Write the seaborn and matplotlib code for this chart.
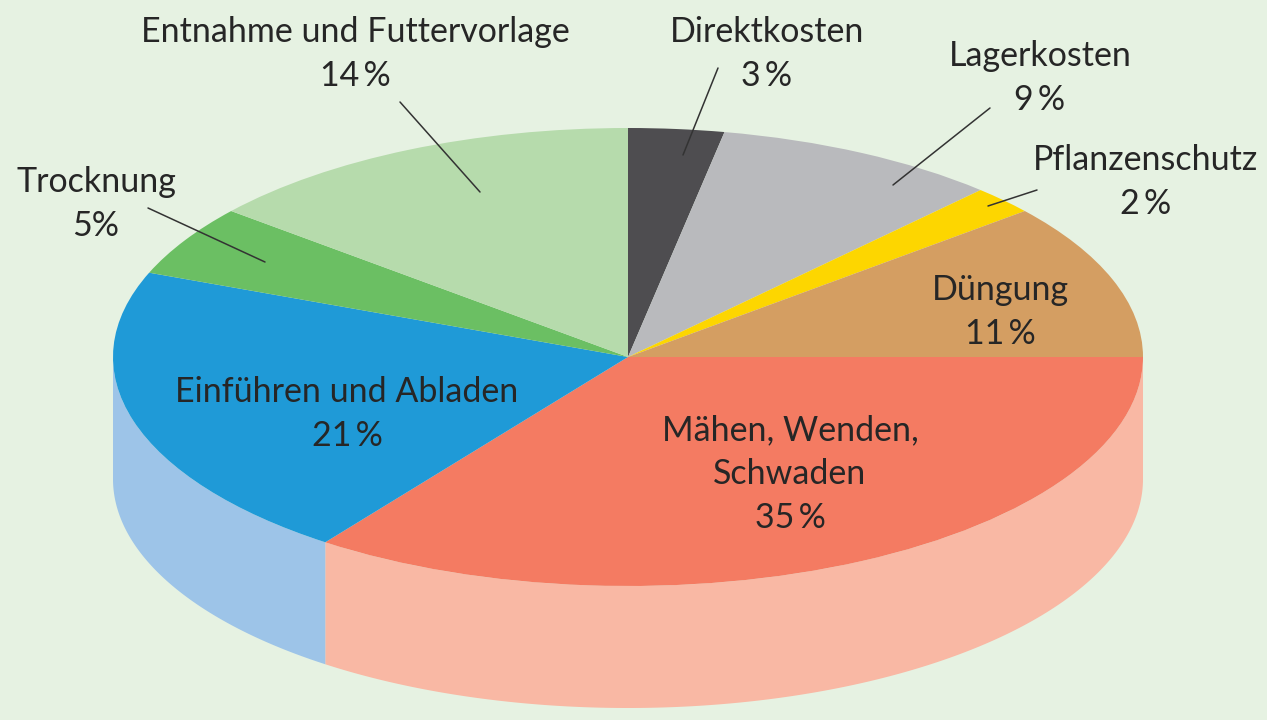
import numpy as np
import matplotlib
matplotlib.use("Agg")
import matplotlib.pyplot as plt
from matplotlib.transforms import Affine2D
from matplotlib.patches import Polygon
import seaborn as sns

# cost shares, clockwise from 12 o'clock
categories = ["Direktkosten", "Lagerkosten", "Pflanzenschutz", "Düngung",
              "Mähen, Wenden,\nSchwaden", "Einführen und Abladen", "Trocknung",
              "Entnahme und Futtervorlage"]
shares = [3, 9, 2, 11, 35, 21, 5, 14]
pct_labels = ["3\u2009%", "9\u2009%", "2\u2009%", "11\u2009%",
              "35\u2009%", "21\u2009%", "5%", "14\u2009%"]

top_colors = ["#4e4d50", "#b9babd", "#fdd600", "#d49e62",
              "#f47b62", "#1f9ad7", "#6bbf63", "#b6dbac"]
side_colors = ["#9a999c", "#dcdddf", "#feeb80", "#e9cfb0",
               "#f9b8a4", "#9dc4e8", "#b5dfb1", "#daedd5"]

# label anchor: x centre, baseline of first line (image pixels, top-left origin)
label_pos = [(767, 42), (1040, 66), (1146, 170), (1000, 300),
             (790, 440), (347, 402), (96, 192), (355, 42)]
leaders = [((718, 68), (683, 155)), ((990, 108), (893, 185)),
           ((1037, 190), (988, 206)), None, None, None,
           ((148, 208), (265, 262)), ((400, 102), (480, 192))]

W, H = 1267, 720
CX, CY, RX, RY = 628, 357, 515, 229
DEPTH = 122 / RY
BG = "#e6f2e2"
TXT = "#262626"

sns.set_style("white")
plt.rcParams["font.family"] = ["Lato", "DejaVu Sans"]

fig = plt.figure(figsize=(W / 100, H / 100), dpi=100)
fig.patch.set_facecolor(BG)
ax = fig.add_axes([0, 0, 1, 1])
ax.set_facecolor(BG)

wedges, _ = ax.pie(shares, colors=top_colors, startangle=90, counterclock=False,
                   radius=1, wedgeprops=dict(linewidth=0, zorder=3))
ax.set_aspect("auto")
ax.set_xlim(-CX / RX, (W - CX) / RX)
ax.set_ylim((CY - H) / RY, CY / RY)
ax.axis("off")

# side wall of the front half
for w, c in zip(wedges, side_colors):
    a1, a2 = max(w.theta1, -180), min(w.theta2, 0)
    if a2 <= a1:
        continue
    t = np.radians(np.linspace(a1, a2, 200))
    x, y = np.cos(t), np.sin(t)
    pts = np.column_stack([np.r_[x, x[::-1]], np.r_[y, y[::-1] - DEPTH]])
    ax.add_patch(Polygon(pts, closed=True, facecolor=c, edgecolor="none", zorder=1))

px = Affine2D().scale(1, -1).translate(0, H)

for cat, pct, (lx, ly), ld in zip(categories, pct_labels, label_pos, leaders):
    lines = cat.split("\n") + [pct]
    for j, s in enumerate(lines):
        ax.text(lx, ly + j * 44, s, transform=px, ha="center", va="baseline",
                fontsize=24.5, color=TXT, zorder=5)
    if ld is not None:
        (x1, y1), (x2, y2) = ld
        ax.plot([x1, x2], [y1, y2], transform=px, color="#333333", lw=1.1, zorder=4)

fig.savefig("out.png", dpi=100, facecolor=BG)
